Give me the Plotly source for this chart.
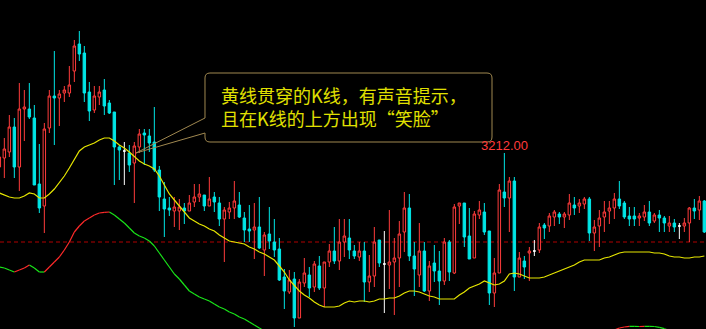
import plotly.graph_objects as go

# ---------------- data ----------------
idx = list(range(142))

opens = [3198, 3207, 3213, 3238, 3198, 3256, 3256, 3247, 3181, 3159,
         3237, 3269, 3267, 3272, 3272, 3294, 3321, 3312, 3273, 3255,
         3268, 3275, 3262, 3253, 3218, 3214, 3212, 3202, 3218, 3232,
         3229, 3223, 3195, 3166, 3157, 3154, 3154, 3157, 3154, 3163,
         3168, 3170, 3159, 3168, 3162, 3146, 3153, 3157, 3160, 3147,
         3136, 3135, 3138, 3115, 3131, 3123, 3116, 3088, 3073, 3086,
         3047, 3082, 3090, 3078, 3099, 3077, 3103, 3114, 3104, 3123,
         3127, 3114, 3108, 3114, 3083, 3089, 3125, 3101, 3100, 3103,
         3107, 3133, 3157, 3109, 3090, 3114, 3074, 3102, 3094, 3084,
         3123, 3092, 3159, 3162, 3129, 3107, 3150, 3153, 3134, 3072,
         3092, 3173, 3167, 3184, 3088, 3104, 3112, 3114, 3115, 3140,
         3139, 3148, 3151, 3148, 3150, 3160, 3159, 3161, 3166, 3132,
         3139, 3148, 3154, 3157, 3166, 3162, 3149, 3149, 3147, 3148,
         3153, 3144, 3150, 3147, 3139, 3142, 3139, 3139, 3142, 3157,
         3155, 3164]

highs = [3215, 3227, 3250, 3247, 3282, 3275, 3282, 3260, 3221, 3242,
         3275, 3314, 3275, 3279, 3299, 3325, 3334, 3319, 3283, 3279,
         3279, 3286, 3265, 3253, 3220, 3223, 3220, 3223, 3236, 3236,
         3236, 3258, 3199, 3183, 3168, 3168, 3166, 3162, 3170, 3181,
         3181, 3170, 3188, 3173, 3168, 3158, 3163, 3184, 3173, 3153,
         3160, 3162, 3168, 3133, 3158, 3146, 3127, 3096, 3095, 3093,
         3086, 3107, 3098, 3104, 3109, 3103, 3121, 3138, 3146, 3146,
         3146, 3120, 3123, 3123, 3110, 3138, 3125, 3134, 3155, 3127,
         3144, 3173, 3171, 3123, 3142, 3123, 3104, 3120, 3114, 3127,
         3125, 3161, 3162, 3162, 3157, 3154, 3164, 3162, 3134, 3107,
         3181, 3212, 3188, 3188, 3113, 3109, 3118, 3125, 3142, 3142,
         3152, 3155, 3153, 3153, 3171, 3168, 3166, 3168, 3168, 3145,
         3155, 3164, 3164, 3172, 3184, 3164, 3158, 3158, 3152, 3160,
         3164, 3152, 3155, 3149, 3149, 3146, 3142, 3147, 3158, 3166,
         3169, 3165]

lows = [3193, 3187, 3208, 3187, 3174, 3224, 3246, 3180, 3152, 3132,
        3232, 3220, 3239, 3263, 3268, 3283, 3304, 3263, 3244, 3252,
        3260, 3250, 3251, 3180, 3185, 3180, 3193, 3162, 3212, 3200,
        3213, 3193, 3154, 3128, 3149, 3138, 3135, 3141, 3154, 3158,
        3163, 3154, 3159, 3153, 3139, 3103, 3146, 3146, 3147, 3123,
        3123, 3106, 3116, 3089, 3116, 3108, 3084, 3056, 3071, 3038,
        3047, 3078, 3068, 3073, 3075, 3058, 3098, 3101, 3095, 3108,
        3106, 3106, 3104, 3063, 3073, 3078, 3098, 3052, 3076, 3050,
        3078, 3113, 3104, 3069, 3078, 3073, 3064, 3083, 3060, 3080,
        3084, 3091, 3141, 3118, 3106, 3107, 3146, 3130, 3060, 3058,
        3092, 3158, 3133, 3074, 3088, 3086, 3084, 3109, 3112, 3126,
        3133, 3139, 3141, 3137, 3145, 3150, 3152, 3156, 3124, 3114,
        3118, 3133, 3141, 3146, 3156, 3146, 3139, 3139, 3139, 3144,
        3139, 3142, 3133, 3133, 3133, 3133, 3126, 3133, 3123, 3146,
        3145, 3132]

closes = [3208, 3216, 3238, 3198, 3256, 3258, 3248, 3180, 3157, 3236,
          3269, 3267, 3271, 3275, 3280, 3319, 3311, 3272, 3254, 3269,
          3273, 3259, 3252, 3218, 3215, 3214, 3200, 3219, 3231, 3230,
          3222, 3195, 3168, 3156, 3155, 3158, 3158, 3154, 3162, 3168,
          3171, 3159, 3166, 3163, 3146, 3155, 3157, 3164, 3148, 3135,
          3134, 3138, 3117, 3130, 3124, 3115, 3085, 3074, 3085, 3047,
          3083, 3092, 3077, 3101, 3077, 3103, 3114, 3104, 3123, 3129,
          3115, 3109, 3114, 3083, 3089, 3123, 3102, 3101, 3103, 3107,
          3131, 3157, 3109, 3096, 3114, 3074, 3099, 3094, 3084, 3123,
          3093, 3158, 3162, 3128, 3106, 3151, 3155, 3133, 3072, 3092,
          3175, 3167, 3184, 3088, 3107, 3098, 3114, 3114, 3138, 3137,
          3149, 3153, 3148, 3151, 3162, 3157, 3162, 3166, 3132, 3138,
          3147, 3153, 3157, 3166, 3159, 3148, 3146, 3146, 3149, 3153,
          3142, 3150, 3147, 3142, 3142, 3138, 3139, 3142, 3157, 3154,
          3164, 3133]

ma_yellow = [3172, 3170, 3168, 3167, 3167, 3169, 3172, 3171, 3167, 3167,
             3171, 3176, 3182, 3189, 3197, 3206, 3214, 3218, 3220, 3222,
             3225, 3227, 3227, 3224, 3220, 3217, 3213, 3208, 3204, 3201,
             3199, 3196, 3189, 3180, 3171, 3165, 3159, 3154, 3147, 3144,
             3141, 3139, 3136, 3134, 3130, 3127, 3124, 3123, 3122, 3121,
             3118, 3116, 3113, 3111, 3108, 3105, 3099, 3093, 3085, 3079,
             3074, 3070, 3067, 3063, 3060, 3058, 3058, 3058, 3059, 3062,
             3064, 3063, 3064, 3064, 3063, 3064, 3066, 3066, 3067, 3067,
             3069, 3072, 3074, 3074, 3073, 3071, 3069, 3068, 3066, 3066,
             3066, 3066, 3070, 3073, 3077, 3079, 3081, 3084, 3082, 3080,
             3081, 3084, 3091, 3092, 3091, 3089, 3087, 3087, 3087, 3088,
             3090, 3092, 3094, 3096, 3098, 3100, 3103, 3105, 3105, 3105,
             3105, 3107, 3108, 3110, 3112, 3113, 3113, 3113, 3113, 3113,
             3113, 3112, 3112, 3111, 3109, 3108, 3108, 3107, 3107, 3108,
             3108, 3109]

oscillator = [3098, 3097, 3095, 3093, 3095, 3097, 3100, 3097, 3093, 3093,
              3098, 3103, 3108, 3115, 3123, 3133, 3139, 3144, 3147, 3150,
              3152, 3152.7, 3153, 3150, 3146, 3142, 3137, 3132, 3129, 3127,
              3124, 3119, 3112, 3105, 3098, 3091, 3086, 3080, 3074, 3071,
              3068, 3066, 3064, 3061, 3058, 3056, 3053, 3051, 3048, 3046,
              3043, 3040, 3037, 3034, 3031, 3028, 3024, 3020, 3016, 3012,
              3009, 3006, 3004, 3002, 3000, 2999, 2998, 2998, 2999, 3001,
              3003, 3004, 3005, 3005, 3004, 3004, 3005, 3006, 3006, 3007,
              3008, 3010, 3011, 3011, 3011, 3010, 3009, 3008, 3008, 3009,
              3010, 3012, 3014, 3015, 3016, 3017, 3018, 3019, 3018, 3018,
              3019, 3021, 3023, 3022, 3021, 3021, 3022, 3022, 3023, 3024,
              3025, 3026, 3027, 3028, 3029, 3030, 3031, 3031, 3030, 3030,
              3031, 3032, 3033, 3035, 3037, 3038, 3038.7, 3038.6, 3038.5, 3038.7,
              3038.6, 3038.5, 3037.7, 3036.3, 3034.5, 3032, 3029, 3027, 3025, 3024,
              3023, 3022]

DOJI = [25, 77, 107, 136]
REF_LEVEL = 3123          # dashed red reference line
HIGH_LABEL_IDX = 101      # candle marked with its high
CALLOUT_TEXT = "黄线贯穿的K线，有声音提示，<br>且在K线的上方出现“笑脸”"

RED = "#ff3b3b"
CYAN = "#00e6e6"
YELLOW = "#e6e600"
GREEN = "#19e619"
BOX = "#a08850"

# ---------------- figure ----------------
fig = go.Figure()

main = [i for i in idx if i not in DOJI]
fig.add_trace(go.Candlestick(
    x=main,
    open=[opens[i] for i in main], high=[highs[i] for i in main],
    low=[lows[i] for i in main], close=[closes[i] for i in main],
    increasing=dict(line=dict(color=RED, width=1), fillcolor="#000000"),
    decreasing=dict(line=dict(color=CYAN, width=1), fillcolor=CYAN),
    whiskerwidth=0, hoverinfo="skip", showlegend=False))

fig.add_trace(go.Candlestick(
    x=DOJI,
    open=[opens[i] for i in DOJI], high=[highs[i] for i in DOJI],
    low=[lows[i] for i in DOJI], close=[closes[i] for i in DOJI],
    increasing=dict(line=dict(color="#ffffff", width=1), fillcolor="#ffffff"),
    decreasing=dict(line=dict(color="#ffffff", width=1), fillcolor="#ffffff"),
    whiskerwidth=0, hoverinfo="skip", showlegend=False))

fig.add_trace(go.Scatter(x=idx, y=ma_yellow, mode="lines",
                         line=dict(color=YELLOW, width=1.2),
                         hoverinfo="skip", showlegend=False))

# oscillator: red where rising, green otherwise
rx, ry, gx, gy = [], [], [], []
for i in range(len(idx) - 1):
    seg_x = [idx[i], idx[i + 1], None]
    seg_y = [oscillator[i], oscillator[i + 1], None]
    if oscillator[i + 1] > oscillator[i]:
        rx += seg_x; ry += seg_y
    else:
        gx += seg_x; gy += seg_y
fig.add_trace(go.Scatter(x=gx, y=gy, mode="lines", line=dict(color=GREEN, width=1.2),
                         hoverinfo="skip", showlegend=False))
fig.add_trace(go.Scatter(x=rx, y=ry, mode="lines", line=dict(color="#ff2a2a", width=1.2),
                         hoverinfo="skip", showlegend=False))

# dashed reference line
fig.add_shape(type="line", xref="paper", x0=0, x1=1, yref="y", y0=REF_LEVEL, y1=REF_LEVEL,
              line=dict(color="#b00000", width=1, dash="4px,3px"), layer="below")

# callout box with wedge pointer
L, R, T, B = 41.13, 98.53, 3292, 3223
rx_, ry_ = 1.0, 5
up_y, lo_y = 3247, 3232
tip_x, tip_y = 27.33, 3212
path = (f"M {L+rx_},{T} L {R-rx_},{T} Q {R},{T} {R},{T-ry_} L {R},{B+ry_} "
        f"Q {R},{B} {R-rx_},{B} L {L+rx_},{B} Q {L},{B} {L},{B+ry_} "
        f"L {L},{lo_y} L {tip_x},{tip_y} L {L},{up_y} L {L},{T-ry_} Q {L},{T} {L+rx_},{T} Z")
fig.add_shape(type="path", xref="x", yref="y", path=path,
              line=dict(color=BOX, width=1))

fig.add_annotation(x=43.9, y=3259, xref="x", yref="y", text=CALLOUT_TEXT,
                   showarrow=False, xanchor="left", yanchor="middle", align="left",
                   font=dict(family="Noto Sans CJK SC", size=18, color="#e0e000"))

fig.add_annotation(x=HIGH_LABEL_IDX, y=highs[HIGH_LABEL_IDX], xref="x", yref="y",
                   text=f"{highs[HIGH_LABEL_IDX]:.2f}", showarrow=False,
                   xanchor="center", yanchor="bottom", yshift=-2,
                   font=dict(family="Liberation Sans, Arial", size=13, color=RED))

fig.update_layout(
    width=706, height=329, margin=dict(l=0, r=0, t=0, b=0),
    paper_bgcolor="#000000", plot_bgcolor="#000000",
    xaxis=dict(visible=False, range=[0.133, 141.33], rangeslider=dict(visible=False),
               fixedrange=True),
    yaxis=dict(visible=False, range=[3036, 3365], fixedrange=True),
    showlegend=False, hovermode=False,
)

fig.write_html("out.html", config={"displayModeBar": False, "staticPlot": True})
